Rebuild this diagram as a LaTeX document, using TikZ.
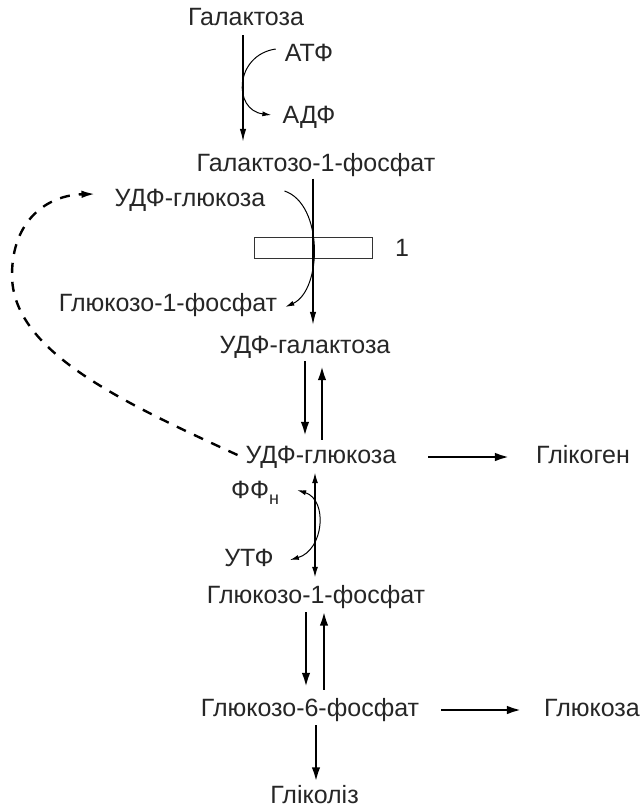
\documentclass[tikz,border=0pt]{standalone}
\usepackage{fontspec}
\setmainfont{Liberation Sans}
\usetikzlibrary{positioning,arrows.meta}

\begin{document}
\begin{tikzpicture}[
  x=1pt, y=-1pt,
  font=\fontsize{25}{27}\selectfont,
  lbl/.style={inner sep=2pt, text height=18pt, text depth=5pt, text=black!85},
  enzbox/.style={rectangle, draw=black!80, line width=0.8pt, minimum width=118pt, minimum height=21pt, inner sep=0pt},
  flow/.style={draw=black, line width=1.5pt, -{Latex[length=13pt,width=6.5pt]}},
  flowboth/.style={draw=black, line width=1.5pt, {Latex[length=11pt,width=6pt]}-{Latex[length=11pt,width=6pt]}},
  bold/.style={draw=black, line width=2.8pt, -{Latex[length=15pt,width=8.5pt]}},
  side/.style={draw=black, line width=1pt, -{Latex[length=9pt,width=5pt]}},
  sideboth/.style={draw=black, line width=1pt, {Latex[length=9pt,width=5pt]}-{Latex[length=9pt,width=5pt]}},
  back/.style={draw=black, line width=2.4pt, dash pattern=on 10pt off 9pt, -{Latex[length=14pt,width=7.5pt]}}
]
\useasboundingbox (0,0) rectangle (644,808);

\node[lbl] (gal)    at (246,19.5)  {Галактоза};
\node[lbl] (atf)    at (309,55)  {АТФ};
\node[lbl] (adf)    at (309,117) {АДФ};
\node[lbl] (galp)   at (316,165) {Галактозо-1-фосфат};
\node[lbl] (udpg1)  at (190,200) {УДФ-глюкоза};
\node[enzbox] (enz) at (313,247.5) {};
\node[lbl] (one)    at (402,250) {1};
\node[lbl] (glp1)   at (168,305) {Глюкозо-1-фосфат};
\node[lbl] (udpgal) at (305,347) {УДФ-галактоза};
\node[lbl] (udpg2)  at (321,457) {УДФ-глюкоза};
\node[lbl] (glycogen) at (583,457) {Глікоген};
\node[lbl] (ffn)    at (255,492) {ФФ\raisebox{-6pt}{\fontsize{18}{18}\selectfont н}};
\node[lbl] (utf)    at (249,560) {УТФ};
\node[lbl] (glp2)   at (316,597) {Глюкозо-1-фосфат};
\node[lbl] (g6p)    at (310,710) {Глюкозо-6-фосфат};
\node[lbl] (glucose) at (592,710) {Глюкоза};
\node[lbl] (glycolysis) at (314.5,797) {Гліколіз};
\coordinate (loop) at (12,275);

% galactose branch
\draw[flow, shorten <=2pt, shorten >=9.5pt] ([xshift=-3]gal.south) -- ([xshift=-73]galp.north);
\draw[side] ([xshift=-7,yshift=6]atf.west) .. controls +(-41,6) and +(-39,-5) .. ([xshift=-9,yshift=2]adf.west);
\draw[flow, line width=1.2pt, shorten >=8.5pt] ([xshift=-3]galp.south) -- ([xshift=8]udpgal.north);
\draw[side] ([xshift=17,yshift=9]udpg1.east) .. controls +(39,13) and +(37,-17) .. ([xshift=6,yshift=-2]glp1.east);

% epimerase
\draw[bold, shorten <=0.5pt, shorten >=6.5pt] (udpgal.south) -- ([xshift=-16]udpg2.north);
\draw[bold, shorten <=3.5pt, shorten >=4.5pt] ([xshift=1]udpg2.north) -- ([xshift=17]udpgal.south);
\draw[back] ([xshift=-6,yshift=2]udpg2.west) .. controls +(-120,-55) and +(0,75) .. (loop)
  .. controls +(0,-55) and +(-48,1) .. ([xshift=-17,yshift=6]udpg1.west);
\draw[bold, shorten <=30pt, shorten >=24pt] (udpg2.east) -- (glycogen.west);

% uridylyl transfer
\draw[flowboth, shorten <=1.5pt, shorten >=5.5pt] ([xshift=-6]udpg2.south) -- ([xshift=-1]glp2.north);
\draw[sideboth] ([xshift=16,yshift=2]ffn.east) .. controls +(31,10) and +(34,-10) .. ([xshift=14]utf.east);

% glucose-6-phosphate
\draw[bold, shorten <=1.5pt, shorten >=8.5pt] ([xshift=-10]glp2.south) -- ([xshift=-4]g6p.north);
\draw[bold, shorten <=6.5pt] ([xshift=14]g6p.north) -- ([xshift=8]glp2.south);
\draw[bold, shorten <=20pt, shorten >=20pt] (g6p.east) -- (glucose.west);
\draw[bold, shorten <=1.5pt, shorten >=1pt] ([xshift=6]g6p.south) -- ([xshift=1.5]glycolysis.north);
\end{tikzpicture}
\end{document}
